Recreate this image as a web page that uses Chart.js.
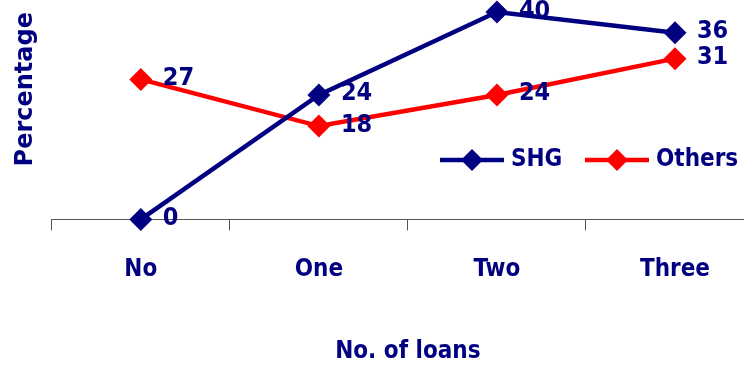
<!DOCTYPE html>
<html>
<head>
<meta charset="utf-8">
<script src="https://cdn.jsdelivr.net/npm/chart.js@4/dist/chart.umd.min.js"></script>
<style>
  html, body { margin: 0; padding: 0; background: #fff; overflow: hidden; }
  #wrap { width: 744px; height: 366px; overflow: hidden; }
  canvas { display: block; }
</style>
</head>
<body>
<div id="wrap"><canvas id="loansChart" width="780" height="366"></canvas></div>
<script>
// data
const categories = ["No", "One", "Two", "Three"];
const shgValues = [0, 24, 40, 36];
const othersValues = [27, 18, 24, 31];
const seriesNames = ["SHG", "Others"];

const NAVY = "#000080";
const RED = "#ff0000";
const condFont = "'DejaVu Sans Condensed', 'DejaVu Sans', sans-serif";

// value labels right of each point
const valueLabels = {
  id: "valueLabels",
  afterDatasetsDraw(chart) {
    const ctx = chart.ctx;
    ctx.save();
    ctx.font = "bold 25px " + condFont;
    ctx.fillStyle = NAVY;
    ctx.textAlign = "left";
    ctx.textBaseline = "middle";
    chart.data.datasets.forEach((ds, i) => {
      chart.getDatasetMeta(i).data.forEach((pt, j) => {
        ctx.fillText(String(ds.data[j]), pt.x + 22, pt.y - 1);
      });
    });
    ctx.restore();
  }
};

// legend drawn as line + diamond, like the original
const lineLegend = {
  id: "lineLegend",
  afterDraw(chart) {
    const ctx = chart.ctx;
    const y = 160;
    const items = [
      { x: 440, label: seriesNames[0], color: NAVY },
      { x: 585, label: seriesNames[1], color: RED }
    ];
    ctx.save();
    items.forEach(it => {
      ctx.strokeStyle = it.color;
      ctx.lineWidth = 4.5;
      ctx.beginPath();
      ctx.moveTo(it.x, y);
      ctx.lineTo(it.x + 64, y);
      ctx.stroke();
      ctx.fillStyle = it.color;
      ctx.beginPath();
      ctx.moveTo(it.x + 32, y - 11);
      ctx.lineTo(it.x + 43, y);
      ctx.lineTo(it.x + 32, y + 11);
      ctx.lineTo(it.x + 21, y);
      ctx.closePath();
      ctx.fill();
      ctx.fillStyle = NAVY;
      ctx.font = "bold 24px " + condFont;
      ctx.textAlign = "left";
      ctx.textBaseline = "middle";
      ctx.fillText(it.label, it.x + 71, y);
    });
    ctx.restore();
  }
};

new Chart(document.getElementById("loansChart"), {
  type: "line",
  data: {
    labels: categories,
    datasets: [
      {
        label: seriesNames[0],
        data: shgValues,
        borderColor: NAVY,
        backgroundColor: NAVY,
        borderWidth: 4.5,
        pointStyle: "rectRot",
        pointRadius: 11.5,
        pointBorderWidth: 0,
        tension: 0,
        clip: false
      },
      {
        label: seriesNames[1],
        data: othersValues,
        borderColor: RED,
        backgroundColor: RED,
        borderWidth: 4.5,
        pointStyle: "rectRot",
        pointRadius: 11.5,
        pointBorderWidth: 0,
        tension: 0,
        clip: false
      }
    ]
  },
  options: {
    responsive: false,
    animation: false,
    layout: { padding: { left: 11, top: 12, right: 16, bottom: 0 } },
    plugins: {
      legend: { display: false },
      tooltip: { enabled: false }
    },
    scales: {
      x: {
        offset: true,
        grid: {
          offset: true,
          drawOnChartArea: false,
          tickLength: 11,
          color: "#555"
        },
        border: { color: "#555", width: 1 },
        ticks: {
          color: NAVY,
          padding: 25,
          font: { family: condFont, size: 24, weight: "bold" }
        },
        title: {
          display: true,
          text: "No. of loans",
          color: NAVY,
          font: { family: condFont, size: 24, weight: "bold" },
          padding: { top: 28, bottom: 0 }
        }
      },
      y: {
        min: 0,
        max: 40,
        grid: { display: false },
        border: { display: false },
        ticks: { display: false },
        title: {
          display: true,
          text: "Percentage",
          align: "end",
          color: NAVY,
          font: { family: "'DejaVu Sans', sans-serif", size: 24, weight: "bold" },
          padding: { top: 0, bottom: 4 }
        }
      }
    }
  },
  plugins: [valueLabels, lineLegend]
});
</script>
</body>
</html>
